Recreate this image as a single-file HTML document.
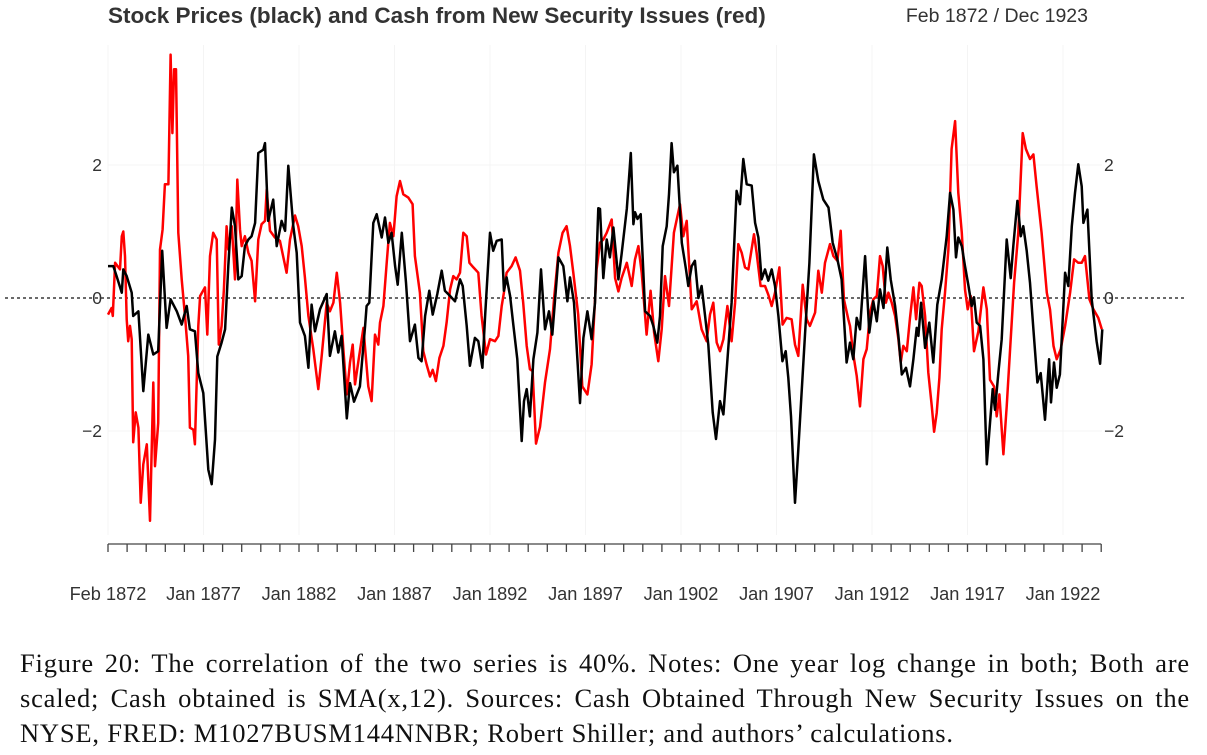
<!DOCTYPE html>
<html><head><meta charset="utf-8"><style>
body{margin:0;background:#fff;width:1207px;height:755px;overflow:hidden;}
svg{position:absolute;left:0;top:0;}
.cap{position:absolute;left:20px;top:646px;width:1170px;font-family:"Liberation Serif",serif;font-size:26.5px;letter-spacing:0.8px;line-height:35px;color:#111;}
.cap div{white-space:nowrap;}
.cap .j{text-align:justify;text-align-last:justify;}
</style></head><body>
<svg width="1207" height="640" id="chart">
<text x="108" y="23" font-family="Liberation Sans, sans-serif" font-weight="bold" font-size="22.5" fill="#333">Stock Prices (black) and Cash from New Security Issues (red)</text>
<text x="1088" y="22" text-anchor="end" font-family="Liberation Sans, sans-serif" font-size="19.5" fill="#333">Feb 1872 / Dec 1923</text>
<g id="grid"></g><g id="axes"></g><g id="series"></g>
</svg>
<div class="cap"><div class="j">Figure 20: The correlation of the two series is 40%. Notes: One year log change in both; Both are</div><div class="j">scaled; Cash obtained is SMA(x,12). Sources: Cash Obtained Through New Security Issues on the</div><div>NYSE, FRED: M1027BUSM144NNBR; Robert Shiller; and authors’ calculations.</div></div>
<script>
const yTicks=[-2,0,2];
const xTickLabels=["Feb 1872","Jan 1877","Jan 1882","Jan 1887","Jan 1892","Jan 1897","Jan 1902","Jan 1907","Jan 1912","Jan 1917","Jan 1922"];
const blackDates=[1872.08,1872.36,1872.53,1872.80,1872.88,1873.06,1873.32,1873.40,1873.67,1873.93,1874.19,1874.45,1874.71,1874.92,1875.15,1875.36,1875.68,1875.94,1876.20,1876.37,1876.63,1876.81,1877.07,1877.33,1877.51,1877.68,1877.80,1878.03,1878.21,1878.38,1878.56,1878.73,1878.90,1879.08,1879.25,1879.43,1879.60,1879.78,1879.95,1880.21,1880.30,1880.47,1880.73,1880.91,1881.17,1881.35,1881.52,1881.78,1881.96,1882.13,1882.39,1882.57,1882.74,1882.92,1883.18,1883.53,1883.70,1883.96,1884.14,1884.31,1884.58,
1884.75,1884.96,1885.27,1885.54,1885.62,1885.76,1885.97,1886.15,1886.41,1886.58,1886.76,1886.93,1887.11,1887.25,1887.46,1887.68,1887.89,1888.15,1888.33,1888.50,1888.68,1888.90,1889.08,1889.32,1889.55,1889.72,1889.99,1890.25,1890.51,1890.65,1890.86,1891.03,1891.29,1891.47,1891.68,1891.82,1892.08,1892.25,1892.43,1892.69,1892.81,1892.95,1893.13,1893.30,1893.51,1893.74,1893.86,1894.00,1894.17,1894.35,1894.56,1894.75,1894.96,1895.17,1895.34,1895.66,1895.92,1896.13,1896.27,1896.48,1896.79,1896.97,1897.18,1897.40,1897.58,1897.75,
1897.84,1898.01,1898.19,1898.36,1898.54,1898.80,1898.97,1899.24,1899.45,1899.59,1899.67,1899.80,1899.97,1900.20,1900.46,1900.63,1900.84,1900.98,1901.12,1901.33,1901.45,1901.59,1901.71,1901.89,1902.12,1902.34,1902.46,1902.64,1902.81,1902.99,1903.16,1903.34,1903.51,1903.74,1903.91,1904.12,1904.30,1904.47,1904.73,1904.99,1905.17,1905.34,1905.52,1905.78,1905.96,1906.13,1906.30,1906.48,1906.65,1906.83,1907.00,1907.18,1907.39,1907.56,1907.70,1907.84,1908.05,1908.22,1908.40,1908.57,1908.80,1909.04,1909.27,1909.53,1909.80,1910.02,1910.27,1910.49,1910.75,
1910.93,1911.10,1911.28,1911.45,1911.72,1911.94,1912.15,1912.33,1912.50,1912.68,1912.88,1913.06,1913.29,1913.46,1913.64,1913.86,1914.07,1914.25,1914.42,1914.51,1914.65,1914.86,1915.08,1915.29,1915.50,1915.73,1915.99,1916.17,1916.34,1916.48,1916.60,1916.78,1916.95,1917.13,1917.30,1917.42,1917.56,1917.74,1917.91,1918.09,1918.26,1918.40,1918.52,1918.70,1918.87,1919.13,1919.34,1919.48,1919.69,1919.87,1920.00,1920.18,1920.35,1920.53,1920.74,1920.91,1921.14,1921.35,1921.45,1921.61,1921.75,1921.92,1922.19,1922.36,1922.54,1922.71,1922.88,1923.06,1923.15,1923.36,1923.58,1923.84,1924.02,1924.14];
const blackValues=[0.48,0.48,0.33,0.08,0.43,0.33,0.08,-0.27,-0.20,-1.40,-0.55,-0.85,-0.80,0.71,-0.45,-0.02,-0.20,-0.40,-0.12,-0.47,-0.50,-1.13,-1.43,-2.58,-2.80,-2.13,-0.88,-0.67,-0.47,0.48,1.36,1.08,0.28,0.33,0.78,0.88,0.93,1.13,2.18,2.23,2.33,1.16,1.48,0.78,1.16,1.01,1.99,1.08,0.68,-0.37,-0.57,-1.05,-0.10,-0.50,-0.17,0.06,-0.87,-0.50,-0.82,-0.57,-1.81,
-1.28,-1.56,-1.33,-0.42,-0.12,-0.07,1.13,1.26,0.91,1.21,0.83,0.98,0.48,0.20,0.98,0.23,-0.65,-0.40,-0.90,-0.95,-0.27,0.11,-0.25,0.06,0.41,0.11,0.03,-0.05,0.28,0.18,-0.42,-1.02,-0.60,-0.65,-1.05,-0.30,0.98,0.71,0.86,0.88,0.11,0.31,0.03,-0.40,-0.92,-2.15,-1.55,-1.37,-1.78,-0.92,-0.52,0.43,-0.47,-0.20,-0.55,0.61,0.48,-0.05,0.31,-0.07,-1.58,-0.60,-0.20,-0.62,-0.07,1.35,
1.34,0.30,0.88,0.61,1.06,0.28,0.66,1.34,2.18,1.11,1.29,1.19,1.26,-0.20,-0.27,-0.42,-0.67,-0.27,0.78,1.08,1.56,2.33,1.89,1.99,0.83,0.43,0.18,0.48,0.56,0.00,0.18,-0.27,-0.70,-1.72,-2.12,-1.55,-1.75,-1.10,-0.07,1.61,1.41,2.09,1.71,1.69,1.13,0.91,0.28,0.43,0.26,0.43,0.18,-0.27,-0.95,-0.80,-1.20,-1.78,-3.08,-2.28,-1.40,-0.55,0.53,2.16,1.76,1.48,1.36,0.83,0.58,0.28,-0.97,
-0.67,-0.92,-0.30,-0.47,0.63,-0.52,-0.05,-0.35,0.13,-0.15,0.76,0.28,-0.12,-0.57,-1.15,-1.05,-1.33,-0.92,-0.45,-0.57,-0.07,-0.75,-0.37,-0.97,-0.10,0.28,0.93,1.58,1.33,0.61,0.91,0.78,0.48,0.18,-0.12,0.01,-0.37,-0.42,-0.92,-2.50,-1.88,-1.37,-1.68,-1.12,-0.62,0.88,0.30,0.78,1.46,0.93,1.08,0.71,0.23,-0.47,-1.27,-1.13,-1.83,-0.92,-1.57,-0.97,-1.35,-1.15,0.38,0.18,1.08,1.58,2.01,1.68,1.13,1.33,-0.02,-0.65,-0.99,-0.47];
const redDates=[1872.08,1872.27,1872.33,1872.45,1872.71,1872.80,1872.88,1872.97,1873.06,1873.14,1873.23,1873.32,1873.40,1873.53,1873.67,1873.79,1873.93,1874.11,1874.28,1874.45,1874.54,1874.71,1874.80,1874.94,1875.06,1875.24,1875.36,1875.45,1875.54,1875.64,1875.76,1875.94,1876.11,1876.28,1876.37,1876.55,1876.63,1876.81,1876.90,1877.16,1877.28,1877.42,1877.59,1877.77,1877.88,1878.03,1878.15,1878.29,1878.38,1878.56,1878.73,1878.85,1878.99,1879.08,1879.25,1879.43,1879.60,1879.78,1879.95,1880.12,1880.30,1880.39,1880.56,1880.82,1881.08,1881.43,1881.61,1881.87,1882.04,1882.22,1882.39,1882.57,1882.83,1883.09,1883.27,1883.53,1883.70,1883.88,1884.06,1884.23,1884.41,1884.58,
1884.75,1884.89,1885.01,1885.19,1885.45,1885.71,1885.88,1886.06,1886.23,1886.32,1886.50,1886.67,1886.84,1887.02,1887.19,1887.37,1887.54,1887.80,1888.03,1888.15,1888.41,1888.59,1888.76,1888.94,1889.08,1889.25,1889.43,1889.64,1889.81,1889.99,1890.16,1890.33,1890.51,1890.68,1890.86,1891.00,1891.21,1891.47,1891.64,1891.87,1892.08,1892.34,1892.52,1892.69,1892.81,1892.95,1893.21,1893.42,1893.65,1893.82,1894.00,1894.17,1894.31,1894.49,1894.70,1894.96,1895.22,1895.43,1895.66,1895.88,1896.09,1896.27,1896.44,1896.70,1896.91,1897.18,1897.40,1897.66,
1897.84,1898.01,1898.19,1898.45,1898.63,1898.80,1898.97,1899.24,1899.50,1899.67,1899.85,1900.02,1900.28,1900.49,1900.67,1900.89,1901.07,1901.24,1901.45,1901.71,1902.03,1902.20,1902.38,1902.64,1902.90,1903.16,1903.42,1903.60,1903.77,1903.95,1904.12,1904.30,1904.51,1904.73,1904.91,1905.08,1905.26,1905.43,1905.61,1905.90,1906.04,1906.25,1906.48,1906.65,1906.83,1907.00,1907.23,1907.40,1907.61,1907.87,1908.05,1908.22,1908.45,1908.66,1908.83,1909.10,1909.27,1909.45,1909.62,1909.88,1910.06,1910.27,1910.44,1910.61,1910.84,
1910.93,1911.10,1911.28,1911.45,1911.63,1911.80,1911.98,1912.15,1912.33,1912.50,1912.64,1912.81,1912.94,1913.11,1913.29,1913.46,1913.58,1913.72,1913.90,1914.07,1914.25,1914.39,1914.56,1914.68,1914.86,1915.03,1915.21,1915.33,1915.47,1915.61,1915.73,1915.90,1916.08,1916.25,1916.43,1916.60,1916.78,1916.95,1917.09,1917.25,1917.42,1917.65,1917.91,1918.09,1918.26,1918.47,1918.61,1918.75,1918.96,1919.13,1919.31,1919.52,1919.74,1919.97,1920.14,1920.35,1920.53,1920.70,1920.96,1921.23,1921.40,1921.58,1921.75,1921.96,1922.19,1922.45,1922.66,1922.88,1923.06,1923.23,1923.46,1923.67,1923.93,1924.11];
const redValues=[-0.25,-0.15,-0.27,0.53,0.43,0.93,1.00,0.63,-0.32,-0.65,-0.42,-0.62,-2.17,-1.72,-1.95,-3.08,-2.50,-2.20,-3.35,-1.27,-2.53,-1.88,0.73,1.03,1.71,1.71,3.66,2.48,3.44,3.44,0.98,0.28,-0.27,-0.87,-1.95,-1.98,-2.20,-0.42,0.03,0.16,-0.55,0.63,0.98,0.88,-0.70,-0.42,0.13,1.08,0.73,1.08,0.28,1.78,1.03,0.78,0.93,0.68,0.56,-0.05,0.88,1.11,1.16,1.63,1.01,0.91,0.86,0.38,0.88,1.24,1.08,0.78,0.31,-0.27,-0.77,-1.37,-0.87,-0.07,-0.20,-0.07,0.38,-0.07,-0.80,-1.45,
-0.97,-0.70,-1.30,-0.95,-0.45,-1.33,-1.55,-0.55,-0.70,-0.37,-0.12,0.53,1.13,0.93,1.53,1.76,1.56,1.51,1.41,0.63,0.08,-0.80,-1.00,-1.18,-1.08,-1.25,-0.90,-0.72,-0.37,0.13,0.33,0.28,0.38,0.98,0.93,0.53,0.46,0.38,-0.27,-0.85,-0.62,-0.65,-0.57,-0.12,0.08,0.38,0.48,0.61,0.41,-0.07,-0.72,-1.07,-1.10,-2.19,-1.94,-1.27,-0.77,-0.02,0.68,0.98,1.08,0.78,0.38,-0.25,-1.33,-1.45,-1.00,0.43,
0.83,0.88,0.98,1.18,0.30,0.10,0.30,0.53,0.18,0.58,0.78,0.38,-0.55,0.11,-0.52,-0.95,-0.47,0.33,-0.12,0.98,1.41,0.93,1.16,-0.17,-0.05,-0.47,-0.65,-0.25,-0.07,-0.67,-0.80,-0.62,-0.12,-0.65,-0.07,0.81,0.68,0.46,0.43,0.96,0.68,0.18,0.18,0.05,-0.12,0.08,0.46,-0.40,-0.30,-0.32,-0.70,-0.87,0.20,-0.32,-0.42,-0.22,0.41,0.08,0.53,0.81,0.63,0.56,1.01,-0.02,-0.32,
-0.42,-0.85,-1.17,-1.63,-0.92,-0.77,-0.22,-0.02,0.03,0.63,0.48,-0.07,0.08,-0.07,-0.27,-0.62,-0.97,-0.72,-0.80,-0.30,0.16,-0.32,0.23,0.18,-0.27,-1.12,-1.63,-2.01,-1.73,-1.20,-0.47,0.08,0.73,2.24,2.66,1.58,0.98,0.13,-0.17,0.03,-0.80,-0.50,0.16,-0.17,-1.23,-1.33,-1.78,-1.45,-2.35,-1.63,-0.77,0.23,0.98,2.48,2.24,2.09,2.16,1.68,0.98,0.08,-0.17,-0.72,-0.92,-0.77,-0.42,0.08,0.58,0.53,0.53,0.63,-0.02,-0.17,-0.30,-0.47];

const NS='http://www.w3.org/2000/svg';
function xs(t){return 108+(t-1872.08)*19.1;}
function ys(v){return 298-v*66.5;}
const F='Liberation Sans, sans-serif';
const grid=document.getElementById('grid'),axes=document.getElementById('axes'),ser=document.getElementById('series');
function mk(tag,attrs,parent){const e=document.createElementNS(NS,tag);for(const k in attrs)e.setAttribute(k,attrs[k]);parent.appendChild(e);return e;}
for(let i=0;i<xTickLabels.length;i++){
  const g=mk('line',{x1:xs(1872.08+i*5),x2:xs(1872.08+i*5),y1:45,y2:535,stroke:'#f4f4f4','stroke-width':1},grid);
  
  
}
yTicks.forEach(v=>{
  if(v===0)return;
  const g=mk('line',{x1:108,x2:1102,y1:ys(v),y2:ys(v),stroke:'#f4f4f4','stroke-width':1},grid);
  
  
});
const z=mk('line',{x1:5,x2:1186,y1:ys(0),y2:ys(0),stroke:'#111','stroke-width':1.2,'stroke-dasharray':'3,3'},axes);


yTicks.forEach(v=>{
  const s=v<0?'\u2212'+Math.abs(v):String(v);
  const l=mk('text',{x:102,y:ys(v)+6,'text-anchor':'end','font-family':F,'font-size':17.5,fill:'#333'},axes);
  l.textContent=s;
  
  
  const r=mk('text',{x:1104,y:ys(v)+6,'font-family':F,'font-size':17.5,fill:'#333'},axes);
  r.textContent=s;
  
  
});
const ax=mk('line',{x1:xs(1872.08),x2:xs(1872.08+52),y1:544,y2:544,stroke:'#444','stroke-width':1.3},axes);


for(let k=0;k<=52;k++){
  const t=mk('line',{x1:xs(1872.08+k),x2:xs(1872.08+k),y1:544,y2:552,stroke:'#444','stroke-width':1.3},axes);
  
  
}
xTickLabels.forEach((s,i)=>{
  const l=mk('text',{x:xs(1872.08+i*5),y:600,'text-anchor':'middle','font-family':F,'font-size':18.2,fill:'#333'},axes);
  l.textContent=s;
  
  
});
function pathOf(d,v){return d.map((t,i)=>(i?'L':'M')+xs(t).toFixed(1)+','+ys(v[i]).toFixed(1)).join('');}
const rp=mk('path',{d:pathOf(redDates,redValues),fill:'none',stroke:'#f00','stroke-width':2.5,'stroke-linejoin':'round'},ser);


const bp=mk('path',{d:pathOf(blackDates,blackValues),fill:'none',stroke:'#000','stroke-width':2.5,'stroke-linejoin':'round'},ser);


</script>
</body></html>
